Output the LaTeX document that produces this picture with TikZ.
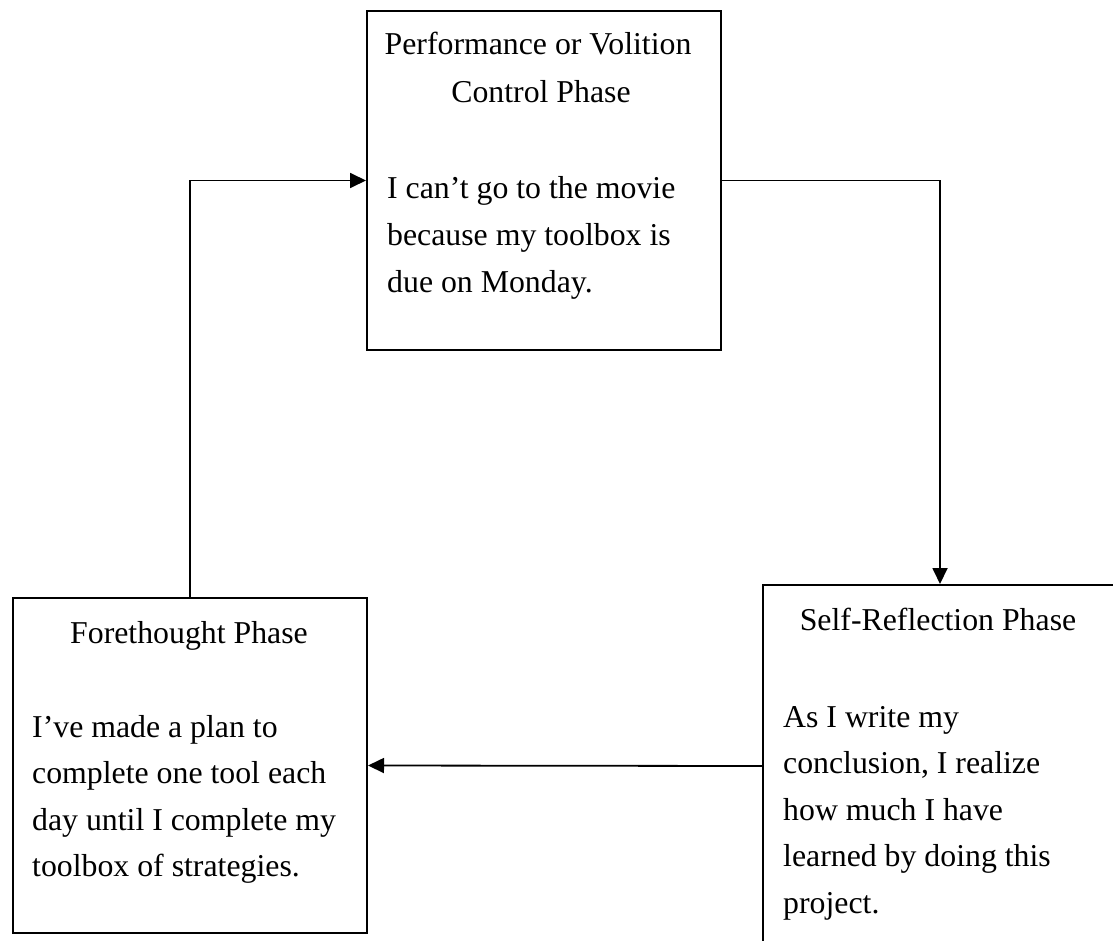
\documentclass[tikz,border=0pt]{standalone}
\usepackage{fontspec}
\setmainfont{Liberation Serif}
\usetikzlibrary{arrows.meta}
\begin{document}
\begin{tikzpicture}[x=1pt,y=-1pt,
  phase/.style={draw, line width=2pt, rectangle, inner sep=0pt, anchor=north west},
  link/.style={line width=1.8pt, -{Triangle[length=16pt,width=15pt]}},
  txt/.style={inner sep=0pt, font=\fontsize{31.8}{46.5}\selectfont},
  head/.style={txt, anchor=base},
  body/.style={txt, anchor=base west}]
\useasboundingbox (0,0) rectangle (1113,941);
\clip (0,0) rectangle (1113,941);

% phase boxes
\node[phase, minimum width=354pt, minimum height=339pt] (perf) at (366,10) {};
\node[phase, minimum width=354pt, minimum height=335pt] (fore) at (12,597) {};
\node[phase, minimum width=356pt, minimum height=362pt] (self) at (762,584) {};

% cycle connectors
\draw[link] (fore.north) |- (perf.west);
\draw[link] (perf.east) -| ([xshift=-1pt]self.north);
\draw[link] (self.west) -- (fore.east);

% performance phase text
\node[head] (p1) at (538,55) {Performance or Volition};
\node[head] (p2) at (541,103) {Control Phase};
\node[body] (p3) at (387,199) {I can’t go to the movie};
\node[body] (p4) at (387,245.5) {because my toolbox is};
\node[body] (p5) at (387,292) {due on Monday.};

% forethought phase text
\node[head] (f1) at (189,643) {Forethought Phase};
\node[body] (f2) at (32,737) {I’ve made a plan to};
\node[body] (f3) at (32,783.5) {complete one tool each};
\node[body] (f4) at (32,830) {day until I complete my};
\node[body] (f5) at (32,876.5) {toolbox of strategies.};

% self-reflection phase text
\node[head] (s1) at (938,630) {Self-Reflection Phase};
\node[body] (s2) at (783,727) {As I write my};
\node[body] (s3) at (783,773.5) {conclusion, I realize};
\node[body] (s4) at (783,820) {how much I have};
\node[body] (s5) at (783,866.5) {learned by doing this};
\node[body] (s6) at (783,913) {project.};
\end{tikzpicture}
\end{document}
